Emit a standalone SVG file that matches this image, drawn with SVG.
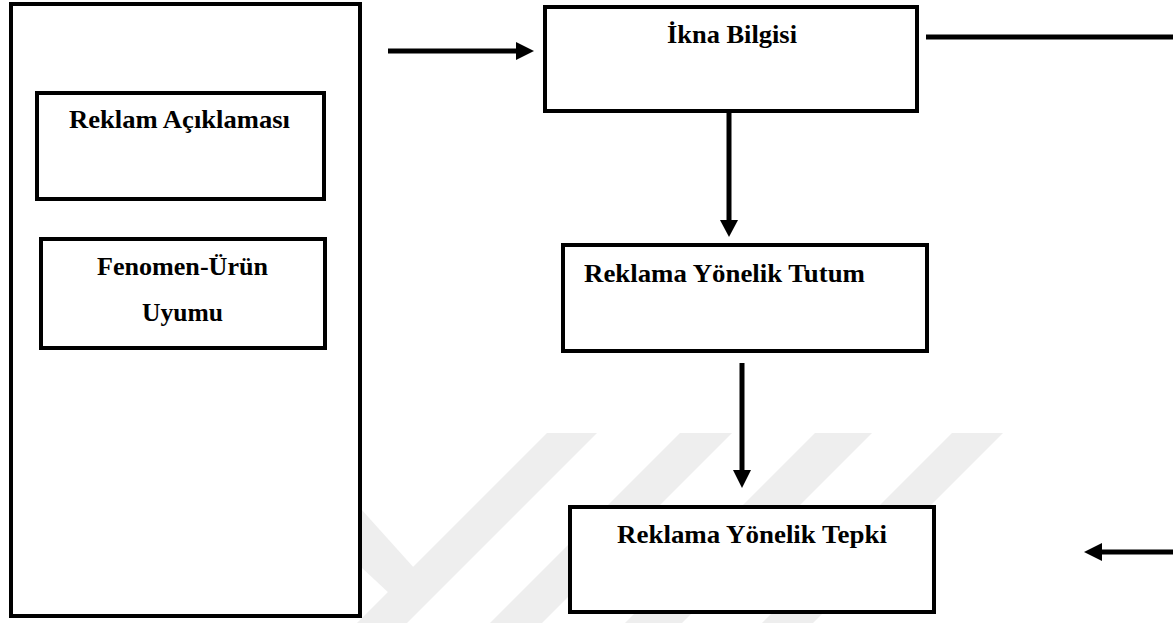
<svg xmlns="http://www.w3.org/2000/svg" width="1173" height="623" viewBox="0 0 1173 623">
  <style>
    .box { fill: #ffffff; stroke: #000000; stroke-width: 4; }
    .lbl { font-weight: bold; font-size: 26px; fill: #000000; }
    .conn { stroke: #000000; stroke-width: 5; fill: none; }
    .head { fill: #000000; }
    .wm { fill: #eeeeee; }
  </style>
  <rect x="0" y="0" width="1173" height="623" fill="#ffffff"/>
  <g id="watermark">
    <polygon class="wm" points="547,433 597,433 407,623 357,623"/>
    <polygon class="wm" points="361,509 415,569 390,594 361,567"/>
    <polygon class="wm" points="680,433 732,433 542,623 490,623"/>
    <polygon class="wm" points="815,433 872,433 682,623 625,623"/>
    <polygon class="wm" points="952,433 1003,433 813,623 762,623"/>
  </g>
  <g id="node-left-group">
    <rect class="box" x="11" y="4" width="349" height="612"/>
  </g>
  <g font-family="Liberation Serif, DejaVu Serif, serif">
  <g id="node-reklam-aciklamasi">
    <rect class="box" x="37" y="93" width="287" height="106"/>
    <text class="lbl" x="69" y="128" textLength="221" lengthAdjust="spacingAndGlyphs">Reklam Açıklaması</text>
  </g>
  <g id="node-fenomen-urun">
    <rect class="box" x="41" y="239" width="284" height="109"/>
    <text class="lbl" x="97" y="275" textLength="171" lengthAdjust="spacingAndGlyphs">Fenomen-Ürün</text>
    <text class="lbl" x="142" y="321" textLength="81" lengthAdjust="spacingAndGlyphs">Uyumu</text>
  </g>
  <g id="node-ikna-bilgisi">
    <rect class="box" x="545" y="7" width="372" height="104"/>
    <text class="lbl" x="667" y="43" textLength="130" lengthAdjust="spacingAndGlyphs">İkna Bilgisi</text>
  </g>
  <g id="node-tutum">
    <rect class="box" x="563" y="245" width="364" height="106"/>
    <text class="lbl" x="584" y="282" textLength="281" lengthAdjust="spacingAndGlyphs">Reklama Yönelik Tutum</text>
  </g>
  <g id="node-tepki">
    <rect class="box" x="570" y="507" width="364" height="105"/>
    <text class="lbl" x="617" y="543" textLength="270" lengthAdjust="spacingAndGlyphs">Reklama Yönelik Tepki</text>
  </g>
  </g>
  <g id="connectors">
    <line class="conn" x1="388" y1="51" x2="518" y2="51"/>
    <polygon class="head" points="516,42 534,51 516,60"/>
    <line class="conn" x1="926" y1="37" x2="1173" y2="37"/>
    <line class="conn" x1="729" y1="112" x2="729" y2="222"/>
    <polygon class="head" points="720,220 738,220 729,237"/>
    <line class="conn" x1="742" y1="363" x2="742" y2="472"/>
    <polygon class="head" points="733,470 751,470 742,488"/>
    <line class="conn" x1="1100" y1="552" x2="1173" y2="552"/>
    <polygon class="head" points="1102,543 1084,552 1102,561"/>
  </g>
</svg>
